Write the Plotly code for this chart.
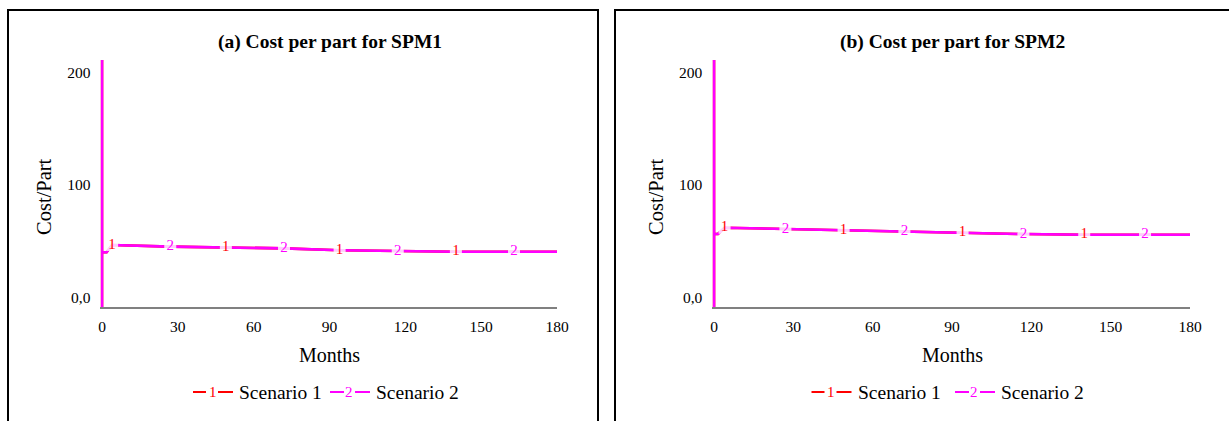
import numpy as np
import plotly.graph_objects as go

W, H = 1229, 421

# ---------------- data ----------------
months_a = [0, 0, 0, 1.8, 4, 27, 49, 72, 94, 117, 140, 163, 180]
cost_a_s1 = [-8.4, 211, 40.2, 40.2, 46.7, 45.2, 44.6, 43.7, 42.0, 41.1, 40.7, 40.7, 40.7]
cost_a_s2 = [-8.4, 211, 40.2, 40.2, 46.7, 45.2, 44.6, 43.7, 42.0, 41.1, 40.7, 40.7, 40.7]

months_b = [0, 0, 0, 1.5, 4, 27, 49, 72, 94, 117, 140, 163, 180]
cost_b_s1 = [-8.4, 211, 56.4, 56.4, 62.0, 60.9, 59.7, 58.8, 57.6, 56.4, 55.8, 55.8, 55.8]
cost_b_s2 = [-8.4, 211, 56.4, 56.4, 62.0, 60.9, 59.7, 58.8, 57.6, 56.4, 55.8, 55.8, 55.8]

label_months_s1 = [4, 49, 94, 140]
label_months_s2 = [27, 72, 117, 163]

x_ticks = [0, 30, 60, 90, 120, 150, 180]
y_ticks = [0, 100, 200]
y_ticktext = ["0,0", "100", "200"]

titles = ["(a) Cost per part for SPM1", "(b) Cost per part for SPM2"]
series_names = ["Scenario 1", "Scenario 2"]
series_labels = ["1", "2"]
colors = ["#FF0000", "#FF00FF"]

# ---------------- layout helpers ----------------
FONT = "Liberation Serif"
def px(x):
    return x / W
def py(y):
    return 1 - y / H

Y_RANGE = [-8.4, 211]
X_RANGE = [-0.6, 180]
panels = [
    dict(x0=102, x1=557, border=(8, 598), xa="x", ya="y", leg_off=(0, 0)),
    dict(x0=714, x1=1190, border=(615, 1240), xa="x2", ya="y2", leg_off=(-4, 2.5)),
]
PLOT_TOP, PLOT_BOT = 60, 307

fig = go.Figure()
data_sets = [
    (months_a, [cost_a_s1, cost_a_s2]),
    (months_b, [cost_b_s1, cost_b_s2]),
]
label_sets = [label_months_s1, label_months_s2]

for p, (mon, series) in zip(panels, data_sets):
    for i, vals in enumerate(series):
        fig.add_trace(go.Scatter(
            x=mon, y=vals, mode="lines", name=series_names[i],
            line=dict(color=colors[i], width=2.6),
            xaxis=p["xa"], yaxis=p["ya"], showlegend=False))
    for i, vals in enumerate(series):
        lm = label_sets[i]
        ly = np.interp(lm, mon[2:], vals[2:])
        fig.add_trace(go.Scatter(
            x=lm, y=ly, mode="markers+text", text=[series_labels[i]] * len(lm),
            textposition="middle center",
            textfont=dict(family=FONT, size=15, color=colors[i]),
            marker=dict(symbol="square", size=12, color="rgba(255,255,255,0.8)",
                        line=dict(width=0)),
            xaxis=p["xa"], yaxis=p["ya"], showlegend=False, cliponaxis=False))

layout = dict(
    width=W, height=H, margin=dict(l=0, r=0, t=0, b=0, autoexpand=False),
    paper_bgcolor="white", plot_bgcolor="white", showlegend=False,
)
shapes = []
annotations = []

def ann(text, x, y, size, color="black", xanchor="center", angle=0):
    annotations.append(dict(text=text, xref="paper", yref="paper", x=px(x), y=py(y),
                            xanchor=xanchor, yanchor="middle", showarrow=False,
                            textangle=angle,
                            font=dict(family=FONT, size=size, color=color)))

for k, p in enumerate(panels):
    ppm = (p["x1"] - p["x0"]) / 180.0
    left = p["x0"] + X_RANGE[0] * ppm
    sfx = "" if k == 0 else "2"
    layout["xaxis" + sfx] = dict(
        domain=[px(left), px(p["x1"])], range=X_RANGE, anchor="y" + sfx,
        tickvals=x_ticks, ticks="outside", ticklen=4, tickcolor="rgba(0,0,0,0)",
        showgrid=False, zeroline=False, automargin=False,
        showline=True, linecolor="#808080", linewidth=2,
        tickfont=dict(family=FONT, size=15.5, color="black"),
    )
    layout["yaxis" + sfx] = dict(
        domain=[py(PLOT_BOT), py(PLOT_TOP)], range=Y_RANGE, anchor="x" + sfx,
        tickvals=y_ticks, ticktext=y_ticktext, ticks="outside", ticklen=6,
        tickcolor="rgba(0,0,0,0)", showgrid=False, automargin=False,
        zeroline=False, showline=False,
        tickfont=dict(family=FONT, size=15.5, color="black"),
    )
    cx = (p["x0"] + p["x1"]) / 2
    # panel border
    shapes.append(dict(type="rect", xref="paper", yref="paper",
                       x0=px(p["border"][0]), x1=px(p["border"][1]),
                       y0=-0.2, y1=py(10), line=dict(color="black", width=2),
                       fillcolor="rgba(0,0,0,0)", layer="below"))
    ann("<b>" + titles[k] + "</b>", cx, 42, 19.5)
    ann("Months", cx, 355, 20)
    ann("Cost/Part", p["x0"] - 58, 197, 20.5, angle=-90)
    # legend
    leg_y = 392
    items = [(193, 206, 212.5, 218, 233, 237), (330, 344, 349, 355, 370, 374)]
    for i, (a0, a1, lx, b0, b1, tx) in enumerate(items):
        off = cx - 329.5 + p["leg_off"][i]
        for s0, s1 in ((a0, a1), (b0, b1)):
            shapes.append(dict(type="line", xref="paper", yref="paper",
                               x0=px(s0 + off), x1=px(s1 + off), y0=py(leg_y), y1=py(leg_y),
                               line=dict(color=colors[i], width=2)))
        ann(series_labels[i], lx + off, leg_y, 15, color=colors[i])
        ann(series_names[i], tx + off, leg_y, 19.5, xanchor="left")

layout["shapes"] = shapes
layout["annotations"] = annotations
fig.update_layout(**layout)
fig.write_html("out.html")
